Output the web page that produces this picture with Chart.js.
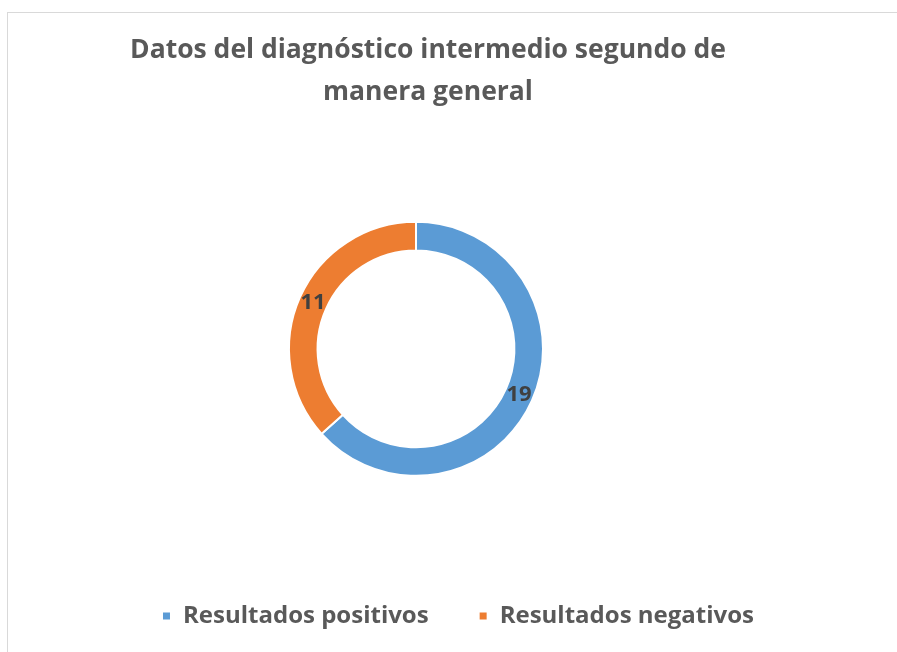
<!DOCTYPE html>
<html>
<head>
<meta charset="utf-8">
<script src="https://cdn.jsdelivr.net/npm/chart.js@4.4.0/dist/chart.umd.min.js"></script>
<style>
  body { margin: 0; background: #fff; }
  #marco { position: absolute; left: 7px; top: 12px; width: 900px; height: 660px;
           border-left: 1px solid #d9d9d9; border-top: 1px solid #d9d9d9; }
  #caja { position: absolute; left: 0; top: 0; width: 897px; height: 652px; }
</style>
</head>
<body>
<div id="marco"></div>
<div id="caja"><canvas id="grafico"></canvas></div>
<script>
// datos del gráfico
const categorias = ['Resultados positivos', 'Resultados negativos'];
const valores = [19, 11];
const colores = ['#5B9BD5', '#ED7D31'];
const titulo = ['Datos del diagnóstico intermedio segundo de', 'manera general'];

// etiquetas con el valor sobre cada sector
const etiquetasValor = {
  id: 'etiquetasValor',
  afterDatasetsDraw(chart) {
    const ctx = chart.ctx;
    const meta = chart.getDatasetMeta(0);
    ctx.save();
    ctx.font = 'bold 22px "Open Sans"';
    ctx.fillStyle = '#404040';
    ctx.textAlign = 'center';
    ctx.textBaseline = 'middle';
    meta.data.forEach(function (arco, i) {
      const p = arco.tooltipPosition();
      ctx.fillText(valores[i], p.x, p.y);
    });
    ctx.restore();
  }
};

// pequeño ajuste de leyenda y dona (como en Excel)
const ajuste = {
  id: 'ajuste',
  afterLayout(chart) {
    chart.legend.left += 30;
    chart.legend.right += 30;
    chart.chartArea.left -= 12;
    chart.chartArea.right -= 12;
    chart.chartArea.top += 10;
    chart.chartArea.bottom += 10;
  }
};

const config = {
  type: 'doughnut',
  data: {
    labels: categorias,
    datasets: [{
      data: valores,
      backgroundColor: colores,
      borderColor: '#ffffff',
      borderWidth: 2,
      radius: 127,
      cutout: '77.5%'
    }]
  },
  options: {
    responsive: true,
    maintainAspectRatio: false,
    animation: false,
    layout: { padding: { left: 0, right: 41, top: 30, bottom: 14 } },
    plugins: {
      tooltip: { enabled: false },
      title: {
        display: true,
        text: titulo,
        color: '#595959',
        font: { family: '"Open Sans"', size: 26.5, weight: 'bold', lineHeight: 1.58 },
        padding: { top: 0, bottom: 10 }
      },
      legend: {
        position: 'bottom',
        labels: {
          color: '#595959',
          font: { family: '"Open Sans"', size: 24, weight: 'bold' },
          boxWidth: 9,
          boxHeight: 9,
          padding: 50
        }
      }
    }
  },
  plugins: [etiquetasValor, ajuste]
};

new Chart(document.getElementById('grafico'), config);
</script>
</body>
</html>
